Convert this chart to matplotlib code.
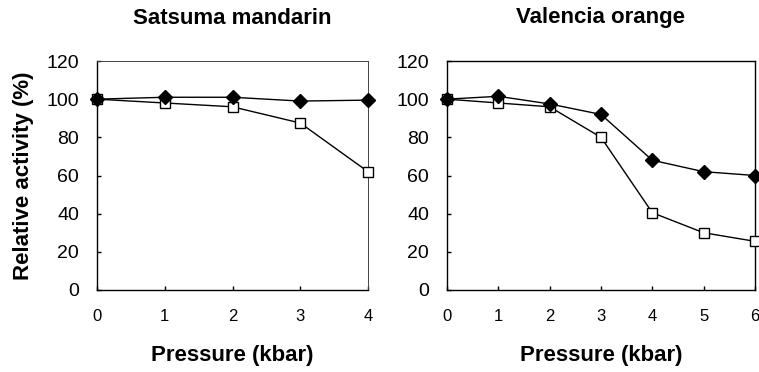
import matplotlib
matplotlib.use("Agg")
import matplotlib.pyplot as plt

satsuma_x = [0, 1, 2, 3, 4]
satsuma_filled = [100, 101, 101, 99, 99.5]
satsuma_open = [100, 98, 96, 87.5, 62]

valencia_x = [0, 1, 2, 3, 4, 5, 6]
valencia_filled = [100, 101.5, 97.5, 92, 68, 62, 60]
valencia_open = [100, 98, 96, 80, 40.5, 30, 25.5]

yticks = [0, 20, 40, 60, 80, 100, 120]

plt.rcParams['font.family'] = ['Liberation Sans', 'DejaVu Sans']

fig = plt.figure(figsize=(7.59, 3.72), dpi=100)
ax1 = fig.add_axes([97/759, 1-290/372, (368-97)/759, (290-61)/372])
ax2 = fig.add_axes([447/759, 1-290/372, (755-447)/759, (290-61)/372])

def style(ax, x, f, o, title, xmax, light_frame):
    ax.plot(x, o, color='black', lw=1.0, marker='s', ms=6.5, mfc='white', mec='black', mew=1.0, clip_on=False, zorder=3)
    ax.plot(x, f, color='black', lw=1.0, marker='D', ms=7, mfc='black', mec='black', clip_on=False, zorder=4)
    ax.set_xlim(0, xmax)
    ax.set_ylim(0, 120)
    ax.set_yticks(yticks)
    ax.set_xticks(x)
    ax.set_yticklabels([str(v) for v in yticks], fontsize=14)
    ax.set_xticklabels([str(v) for v in x], fontsize=12, family=['Liberation Sans Narrow', 'Liberation Sans'])
    ax.tick_params(direction='in', length=3, width=1)
    ax.tick_params(axis='y', pad=13)
    ax.tick_params(axis='x', pad=14)
    for s in ax.spines.values():
        s.set_linewidth(1.0)
    if light_frame:
        for k in ('top', 'right'):
            ax.spines[k].set_linewidth(0.7)
            ax.spines[k].set_color('#444444')
    ax.set_title(title, fontsize=16, fontweight='bold', pad=27)
    ax.set_xlabel('Pressure (kbar)', fontsize=16, fontweight='bold', labelpad=15)

style(ax1, satsuma_x, satsuma_filled, satsuma_open, 'Satsuma mandarin', 4, True)
style(ax2, valencia_x, valencia_filled, valencia_open, 'Valencia orange', 6, False)
ax1.set_ylabel('Relative activity (%)', fontsize=16, fontweight='bold', labelpad=9)

fig.savefig('out.png', dpi=100)
